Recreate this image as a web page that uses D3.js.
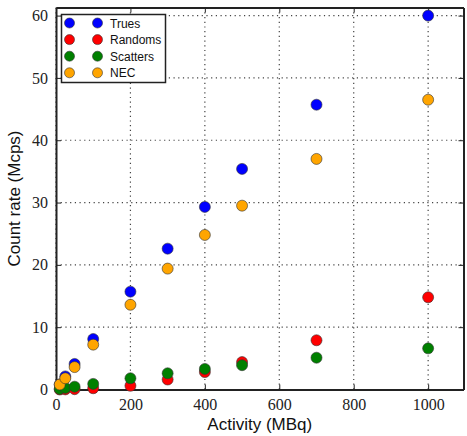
<!DOCTYPE html>
<html>
<head>
<meta charset="utf-8">
<script src="https://cdn.jsdelivr.net/npm/d3@7"></script>
<style>
  body { margin: 0; background: #fff; }
</style>
</head>
<body>
<script>
// activity values (MBq)
var activity = [10, 25, 50, 100, 200, 300, 400, 500, 700, 1000];

// count rates (Mcps)
var trues    = [0.8, 2.1, 4.1, 8.1, 15.7, 22.6, 29.3, 35.4, 45.7, 60.0];
var randoms  = [0.0, 0.02, 0.05, 0.2, 0.6, 1.6, 2.8, 4.4, 7.9, 14.8];
var scatters = [0.1, 0.25, 0.45, 0.9, 1.8, 2.6, 3.3, 3.9, 5.1, 6.6];
var nec      = [0.8, 1.8, 3.6, 7.2, 13.6, 19.4, 24.8, 29.5, 37.0, 46.5];

var seriesNames = ["Trues", "Randoms", "Scatters", "NEC"];
var seriesColors = ["#0000ff", "#ff0000", "#008000", "#ffa500"];
var seriesValues = [trues, randoms, scatters, nec];

var xTicks = [0, 200, 400, 600, 800, 1000];
var yTicks = [0, 10, 20, 30, 40, 50, 60];

var width = 467, height = 436;
var margin = {left: 56, right: 3.5, top: 7.5, bottom: 46.5};

var svg = d3.select("body").append("svg")
    .attr("width", width)
    .attr("height", height);

var x = d3.scaleLinear()
    .domain([0, 1095])
    .range([margin.left, width - margin.right]);

var y = d3.scaleLinear()
    .domain([0, 61.3])
    .range([height - margin.bottom, margin.top]);

// grid
var grid = svg.append("g");
grid.selectAll("line.gx")
    .data(xTicks)
    .enter().append("line")
    .attr("x1", function(d) { return x(d); })
    .attr("x2", function(d) { return x(d); })
    .attr("y1", y.range()[0])
    .attr("y2", y.range()[1])
    .attr("stroke", "#444")
    .attr("stroke-width", 1.2)
    .attr("stroke-dasharray", "1.2,3.5");
grid.selectAll("line.gy")
    .data(yTicks)
    .enter().append("line")
    .attr("x1", x.range()[0])
    .attr("x2", x.range()[1])
    .attr("y1", function(d) { return y(d); })
    .attr("y2", function(d) { return y(d); })
    .attr("stroke", "#444")
    .attr("stroke-width", 1.2)
    .attr("stroke-dasharray", "1.2,3.5");

// axes, ticks pointing inwards
var fmt = d3.format("d");
var xAxis = svg.append("g")
    .attr("transform", "translate(0," + y.range()[0] + ")")
    .call(d3.axisBottom(x).tickValues(xTicks).tickFormat(fmt).tickSizeInner(-5).tickSizeOuter(0).tickPadding(9));
var xAxisTop = svg.append("g")
    .attr("transform", "translate(0," + y.range()[1] + ")")
    .call(d3.axisTop(x).tickValues(xTicks).tickSizeInner(-5).tickSizeOuter(0).tickFormat(""));
var yAxis = svg.append("g")
    .attr("transform", "translate(" + x.range()[0] + ",0)")
    .call(d3.axisLeft(y).tickValues(yTicks).tickFormat(fmt).tickSizeInner(-5).tickSizeOuter(0).tickPadding(8));
var yAxisRight = svg.append("g")
    .attr("transform", "translate(" + x.range()[1] + ",0)")
    .call(d3.axisRight(y).tickValues(yTicks).tickSizeInner(-5).tickSizeOuter(0).tickFormat(""));

[xAxis, xAxisTop, yAxis, yAxisRight].forEach(function(a) {
    a.select(".domain").attr("stroke", "#222").attr("stroke-width", 2);
    a.selectAll(".tick line").attr("stroke", "#222").attr("stroke-width", 1);
    a.selectAll(".tick text")
        .attr("font-family", "Liberation Serif")
        .attr("font-size", 16)
        .attr("fill", "#222");
});

// points
seriesValues.forEach(function(vals, s) {
    svg.append("g").selectAll("circle")
        .data(activity)
        .enter().append("circle")
        .attr("cx", function(d) { return x(d); })
        .attr("cy", function(d, i) { return y(vals[i]); })
        .attr("r", 5.5)
        .attr("fill", seriesColors[s])
        .attr("stroke", "#333")
        .attr("stroke-width", 0.6);
});

// legend
var legend = svg.append("g");
legend.append("rect")
    .attr("x", 61.5)
    .attr("y", 14.5)
    .attr("width", 104)
    .attr("height", 68)
    .attr("fill", "#fff")
    .attr("stroke", "#222")
    .attr("stroke-width", 1.5);

seriesNames.forEach(function(name, i) {
    var ly = 23 + i * 16.6;
    [69.5, 97.5].forEach(function(lx) {
        legend.append("circle")
            .attr("cx", lx)
            .attr("cy", ly)
            .attr("r", 5)
            .attr("fill", seriesColors[i])
            .attr("stroke", "#333")
            .attr("stroke-width", 0.6);
    });
    legend.append("text")
        .attr("x", 110)
        .attr("y", ly + 4.5)
        .attr("font-family", "Liberation Sans, Arial, sans-serif")
        .attr("font-size", 12)
        .attr("fill", "#111")
        .text(name);
});

// axis labels
svg.append("text")
    .attr("x", (x.range()[0] + x.range()[1]) / 2)
    .attr("y", 430)
    .attr("text-anchor", "middle")
    .attr("font-family", "Liberation Sans, Arial, sans-serif")
    .attr("font-size", 17)
    .attr("fill", "#111")
    .text("Activity (MBq)");

svg.append("text")
    .attr("transform", "translate(20," + (y.range()[0] + y.range()[1]) / 2 + ") rotate(-90)")
    .attr("text-anchor", "middle")
    .attr("font-family", "Liberation Sans, Arial, sans-serif")
    .attr("font-size", 17)
    .attr("fill", "#111")
    .text("Count rate (Mcps)");
</script>
</body>
</html>
